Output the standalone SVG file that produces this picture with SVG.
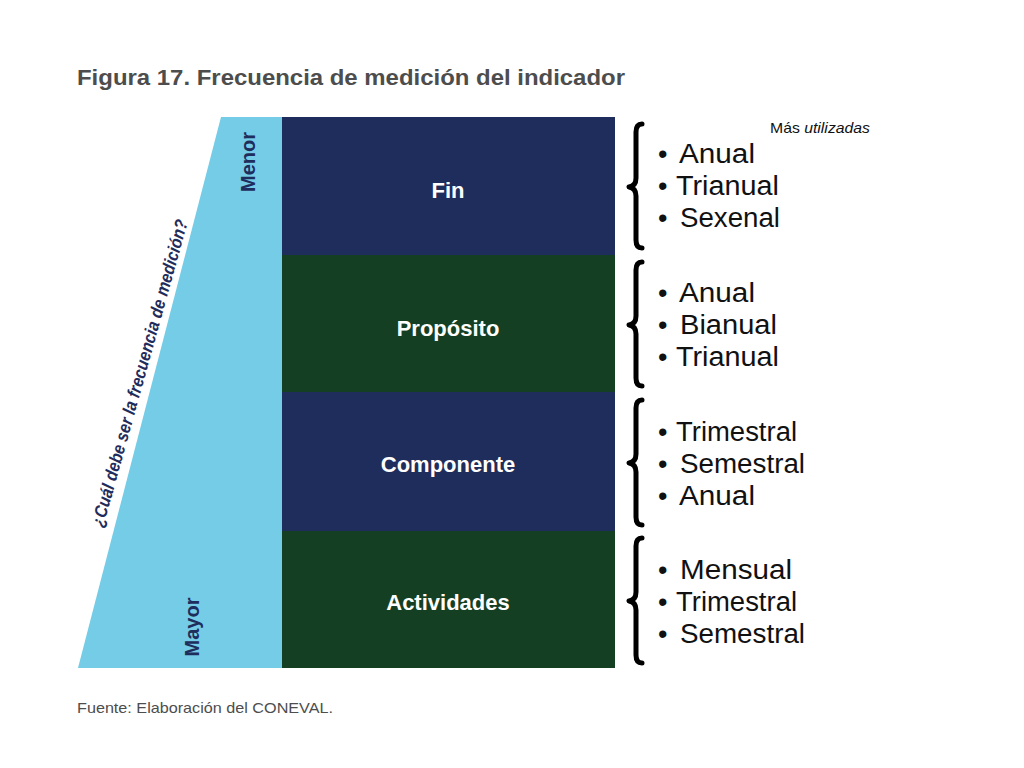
<svg xmlns="http://www.w3.org/2000/svg" width="1024" height="768" viewBox="0 0 1024 768">
<defs>
<style>
.title{font-family:"Liberation Sans",Arial,sans-serif;font-weight:bold;font-size:22px;fill:#4d4d4d}
.foot{font-family:"Liberation Sans",Arial,sans-serif;font-size:15px;fill:#4d4d4d}
.box-label{font-family:"Liberation Sans",Arial,sans-serif;font-weight:bold;font-size:22px;fill:#ffffff;text-anchor:middle}
.side{font-family:"Liberation Sans",Arial,sans-serif;font-weight:bold;font-size:20px;fill:#1f2d5c;text-anchor:middle}
.item{font-family:"Liberation Sans",Arial,sans-serif;font-size:27px;fill:#111111}
.note{font-family:"Liberation Sans",Arial,sans-serif;font-size:15px;fill:#111111}
.navy{fill:#1f2d5c}
.green{fill:#153f22}
.brace{fill:none;stroke:#000;stroke-width:5;stroke-linecap:round;stroke-linejoin:round}
</style>
</defs>
<rect width="1024" height="768" fill="#ffffff"/>
<text class="title" x="77" y="85" textLength="548" lengthAdjust="spacingAndGlyphs">Figura 17. Frecuencia de medición del indicador</text>

<g id="triangle">
<polygon points="221,117 282,117 282,668 78,668" fill="#74cce6"/>
<text class="side" transform="translate(255,162) rotate(-90)">Menor</text>
<text class="side" transform="translate(199,627) rotate(-90)">Mayor</text>
<text transform="translate(103,528) rotate(-74.5)" font-family="'Liberation Sans',Arial,sans-serif" font-weight="bold" font-style="italic" font-size="18" fill="#1f2d5c" textLength="318" lengthAdjust="spacingAndGlyphs">¿Cuál debe ser la frecuencia de medición?</text>
</g>

<g id="fin">
<rect class="navy" x="282" y="117" width="333" height="138"/>
<text class="box-label" x="448" y="198">Fin</text>
</g>
<g id="proposito">
<rect class="green" x="282" y="255" width="333" height="137"/>
<text class="box-label" x="448" y="336">Propósito</text>
</g>
<g id="componente">
<rect class="navy" x="282" y="392" width="333" height="139"/>
<text class="box-label" x="448" y="472">Componente</text>
</g>
<g id="actividades">
<rect class="green" x="282" y="531" width="333" height="137"/>
<text class="box-label" x="448" y="610">Actividades</text>
</g>

<g id="connectors">
<path class="brace" d="M642,124 Q636,124 636,132 L636,178 Q636,186 629,187 Q636,188 636,196 L636,240 Q636,248 642,248"/>
<path class="brace" d="M642,262 Q636,262 636,270 L636,316 Q636,324 629,325 Q636,326 636,334 L636,378 Q636,386 642,386"/>
<path class="brace" d="M642,400 Q636,400 636,408 L636,454 Q636,462 629,463 Q636,464 636,472 L636,517 Q636,525 642,525"/>
<path class="brace" d="M642,538 Q636,538 636,546 L636,592 Q636,600 629,601 Q636,602 636,610 L636,655 Q636,663 642,663"/>
</g>

<g id="list-fin">
<text class="note" x="770" y="133" textLength="100" lengthAdjust="spacingAndGlyphs">Más <tspan font-style="italic">utilizadas</tspan></text>
<text class="item" x="658" y="163">•</text><text class="item" x="679" y="163" textLength="76" lengthAdjust="spacingAndGlyphs">Anual</text>
<text class="item" x="658" y="195">•</text><text class="item" x="676" y="195" textLength="103" lengthAdjust="spacingAndGlyphs">Trianual</text>
<text class="item" x="658" y="227">•</text><text class="item" x="680" y="227" textLength="100" lengthAdjust="spacingAndGlyphs">Sexenal</text>
</g>
<g id="list-proposito">
<text class="item" x="658" y="302">•</text><text class="item" x="679" y="302" textLength="76" lengthAdjust="spacingAndGlyphs">Anual</text>
<text class="item" x="658" y="334">•</text><text class="item" x="680" y="334" textLength="97" lengthAdjust="spacingAndGlyphs">Bianual</text>
<text class="item" x="658" y="366">•</text><text class="item" x="676" y="366" textLength="103" lengthAdjust="spacingAndGlyphs">Trianual</text>
</g>
<g id="list-componente">
<text class="item" x="658" y="441">•</text><text class="item" x="676" y="441" textLength="121" lengthAdjust="spacingAndGlyphs">Trimestral</text>
<text class="item" x="658" y="473">•</text><text class="item" x="680" y="473" textLength="125" lengthAdjust="spacingAndGlyphs">Semestral</text>
<text class="item" x="658" y="505">•</text><text class="item" x="679" y="505" textLength="76" lengthAdjust="spacingAndGlyphs">Anual</text>
</g>
<g id="list-actividades">
<text class="item" x="658" y="579">•</text><text class="item" x="680" y="579" textLength="112" lengthAdjust="spacingAndGlyphs">Mensual</text>
<text class="item" x="658" y="611">•</text><text class="item" x="676" y="611" textLength="121" lengthAdjust="spacingAndGlyphs">Trimestral</text>
<text class="item" x="658" y="643">•</text><text class="item" x="680" y="643" textLength="125" lengthAdjust="spacingAndGlyphs">Semestral</text>
</g>

<text class="foot" x="77" y="713" textLength="256" lengthAdjust="spacingAndGlyphs">Fuente: Elaboración del CONEVAL.</text>
</svg>
